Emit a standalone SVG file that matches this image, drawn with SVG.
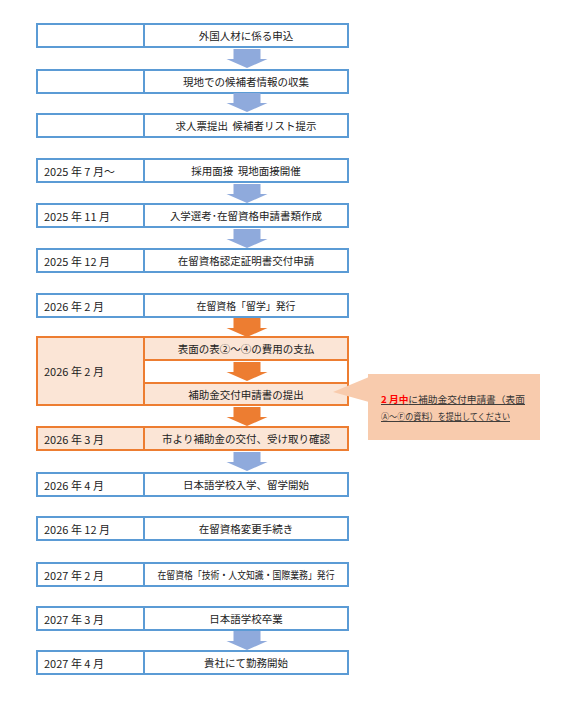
<svg xmlns="http://www.w3.org/2000/svg" xmlns:xlink="http://www.w3.org/1999/xlink" width="567" height="703" viewBox="0 0 567 703">
<style>
.bb{fill:#ffffff;stroke:#5B9BD5;stroke-width:2}
.ob{fill:#FBE5D6;stroke:#ED7D31;stroke-width:2}
.ow{fill:#ffffff;stroke:#ED7D31;stroke-width:2}
.t{font-family:"Noto Sans CJK JP","Noto Sans",sans-serif;font-size:10.5px;fill:#222222;dominant-baseline:central;white-space:pre}
.l{font-size:11px}
.c{text-anchor:middle}
.co{font-family:"Noto Sans CJK JP","Noto Sans",sans-serif;font-size:9.3px;fill:#333333;text-decoration:underline}
.red{fill:#FF0000;font-weight:bold}
</style>
<defs>
<path id="arw" d="M-13.5,0 H13.5 V10 H20.5 L0,19 L-20.5,10 H-13.5 Z"/>
</defs>
<g id="n1"><rect class="bb" x="37" y="24" width="107" height="23"/><rect class="bb" x="144" y="24" width="204" height="23"/><text class="t c" x="246" y="35.5">外国人材に係る申込</text></g>
<g id="n2"><rect class="bb" x="37" y="70" width="107" height="23"/><rect class="bb" x="144" y="70" width="204" height="23"/><text class="t c" x="246" y="81.5">現地での候補者情報の収集</text></g>
<g id="n3"><rect class="bb" x="37" y="114" width="107" height="23"/><rect class="bb" x="144" y="114" width="204" height="23"/><text class="t c" x="246" y="125.5" xml:space="preserve">求人票提出  候補者リスト提示</text></g>
<g id="n4"><rect class="bb" x="37" y="159" width="107" height="23"/><rect class="bb" x="144" y="159" width="204" height="23"/><text class="t l" x="44" y="170.5">2025 年 7 月～</text><text class="t c" x="246" y="170.5" xml:space="preserve">採用面接  現地面接開催</text></g>
<g id="n5"><rect class="bb" x="37" y="204" width="107" height="23"/><rect class="bb" x="144" y="204" width="204" height="23"/><text class="t l" x="44" y="215.5">2025 年 11 月</text><text class="t c" x="246" y="215.5">入学選考･在留資格申請書類作成</text></g>
<g id="n6"><rect class="bb" x="37" y="249" width="107" height="23"/><rect class="bb" x="144" y="249" width="204" height="23"/><text class="t l" x="44" y="260.5">2025 年 12 月</text><text class="t c" x="246" y="260.5">在留資格認定証明書交付申請</text></g>
<g id="n7"><rect class="bb" x="37" y="294" width="107" height="23"/><rect class="bb" x="144" y="294" width="204" height="23"/><text class="t l" x="44" y="305.5">2026 年 2 月</text><text class="t c" x="246" y="305.5" textLength="99" lengthAdjust="spacingAndGlyphs">在留資格「留学」発行</text></g>
<g id="n8"><rect class="ob" x="37" y="337" width="107" height="68"/><rect class="ow" x="144" y="337" width="204" height="68"/><rect class="ob" x="144" y="337" width="204" height="23"/><rect class="ob" x="144" y="383" width="204" height="22"/><text class="t l" x="44" y="371">2026 年 2 月</text><text class="t c" x="246" y="348.5">表面の表②～④の費用の支払</text><text class="t c" x="246" y="394">補助金交付申請書の提出</text></g>
<g id="n9"><rect class="ob" x="37" y="427" width="107" height="23"/><rect class="ob" x="144" y="427" width="204" height="23"/><text class="t l" x="44" y="438.5">2026 年 3 月</text><text class="t c" x="246" y="438.5">市より補助金の交付、受け取り確認</text></g>
<g id="n10"><rect class="bb" x="37" y="473" width="107" height="23"/><rect class="bb" x="144" y="473" width="204" height="23"/><text class="t l" x="44" y="484.5">2026 年 4 月</text><text class="t c" x="246" y="484.5">日本語学校入学、留学開始</text></g>
<g id="n11"><rect class="bb" x="37" y="517" width="107" height="23"/><rect class="bb" x="144" y="517" width="204" height="23"/><text class="t l" x="44" y="528.5">2026 年 12 月</text><text class="t c" x="246" y="528.5">在留資格変更手続き</text></g>
<g id="n12"><rect class="bb" x="37" y="563" width="107" height="23"/><rect class="bb" x="144" y="563" width="204" height="23"/><text class="t l" x="44" y="574.5">2027 年 2 月</text><text class="t c" x="246" y="574.5" textLength="177" lengthAdjust="spacingAndGlyphs">在留資格「技術・人文知識・国際業務」発行</text></g>
<g id="n13"><rect class="bb" x="37" y="607" width="107" height="23"/><rect class="bb" x="144" y="607" width="204" height="23"/><text class="t l" x="44" y="618.5">2027 年 3 月</text><text class="t c" x="246" y="618.5">日本語学校卒業</text></g>
<g id="n14"><rect class="bb" x="37" y="651" width="107" height="23"/><rect class="bb" x="144" y="651" width="204" height="23"/><text class="t l" x="44" y="662.5">2027 年 4 月</text><text class="t c" x="246" y="662.5">貴社にて勤務開始</text></g>
<g id="connectors">
<use xlink:href="#arw" href="#arw" x="247" y="49" fill="#8FAADC"/>
<use xlink:href="#arw" href="#arw" x="247" y="93" fill="#8FAADC"/>
<use xlink:href="#arw" href="#arw" x="247" y="184" fill="#8FAADC"/>
<use xlink:href="#arw" href="#arw" x="247" y="229" fill="#8FAADC"/>
<use xlink:href="#arw" href="#arw" x="247" y="318" fill="#ED7D31"/>
<use xlink:href="#arw" href="#arw" x="247" y="362" fill="#ED7D31"/>
<use xlink:href="#arw" href="#arw" x="247" y="407" fill="#ED7D31"/>
<use xlink:href="#arw" href="#arw" x="247" y="452" fill="#8FAADC"/>
<use xlink:href="#arw" href="#arw" x="247" y="631" fill="#8FAADC"/>
</g>
<g id="callout">
<rect x="368" y="374" width="172" height="66" fill="#F8CBAD"/>
<polygon points="369,377 333,392 369,402" fill="#F8CBAD"/>
<text class="co" x="381" y="403" textLength="144" lengthAdjust="spacingAndGlyphs"><tspan class="red">2 月中</tspan>に補助金交付申請書（表面</text>
<text class="co" x="381" y="420" textLength="129" lengthAdjust="spacingAndGlyphs">Ⓐ～Ⓕの資料）を提出してください</text>
</g>
</svg>
